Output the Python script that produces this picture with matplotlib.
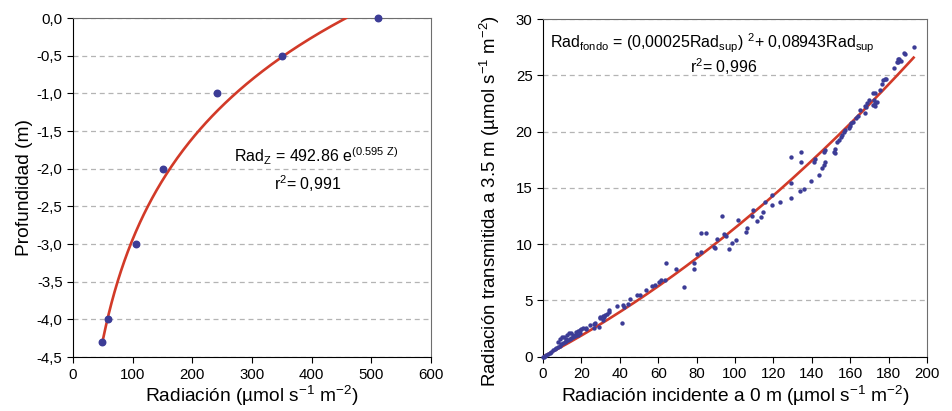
import matplotlib

matplotlib.use("Agg")
import matplotlib.pyplot as plt
import numpy as np
from matplotlib.ticker import FuncFormatter, MultipleLocator

plt.rcParams["font.family"] = ["Liberation Sans", "DejaVu Sans"]
plt.rcParams["mathtext.default"] = "regular"

# Left panel: radiation profile with depth
depth = [0.0, -0.5, -1.0, -2.0, -3.0, -4.0, -4.3]
rad_depth = [512, 350, 241.6, 150.4, 105.7, 59.3, 48.1]

# Right panel: transmitted (3.5 m) vs incident (0 m) radiation
rad_sup = [
    0.0, 0.3, 0.9, 1.7, 2.6, 3.5, 4.3, 5.2, 6.1, 7.0, 7.8, 8.7, 9.6, 10.4,
    11.3, 12.2, 13.0, 13.9, 14.8, 15.7, 16.5, 17.4,
    7.8, 9.0, 10.1, 11.0, 11.8, 12.5, 13.6, 14.4, 15.7, 17.4, 18.3, 19.1,
    20.0, 20.9, 19.1, 18.3, 22.6, 26.4, 26.4, 29.2, 29.9, 31.0, 33.4, 34.4,
    38.3, 40.9, 34.4, 32.2, 31.7, 31.0, 29.6, 27.0, 24.3, 22.3,
    41.7, 42.1, 44.3, 45.2, 48.7, 50.4, 53.6, 56.5, 58.3, 60.3, 61.7, 63.5,
    64.0, 69.2, 73.4, 78.6, 78.6, 80.0, 82.3, 82.1, 84.9, 89.0, 89.6, 90.4,
    93.0, 94.3, 95.3, 97.0, 98.3, 100.5, 101.4, 105.7, 106.4, 108.7, 109.6,
    111.3, 113.6, 114.8, 115.6, 119.1, 119.1, 123.5, 129.0, 129.0, 129.0,
    133.9, 136.0, 134.3, 134.3, 139.5, 140.9, 141.7, 143.5, 145.2, 146.1,
    147.0, 146.1, 147.0, 151.8, 151.3, 151.8, 153.0, 153.9, 155.1, 155.7,
    156.5, 157.4, 159.1, 160.0, 160.5, 161.4, 163.1, 163.8, 165.2, 167.5,
    167.8, 168.3, 168.7, 169.6, 172.2, 173.0, 171.8, 172.7, 173.9, 171.8,
    173.0, 175.7, 176.5, 176.9, 177.9, 178.8, 183.0, 184.3, 184.7, 184.9,
    185.2, 186.4, 188.2, 188.7, 193.0,
]
rad_fondo = [
    0.0, 0.02, 0.06, 0.15, 0.24, 0.36, 0.44, 0.59, 0.68, 0.80, 0.89, 0.98,
    1.13, 1.18, 1.27, 1.36, 1.48, 1.57, 1.69, 1.78, 1.84, 1.92,
    1.33, 1.54, 1.72, 1.78, 1.54, 1.92, 2.07, 2.13, 1.92, 2.22, 2.31, 2.37,
    2.43, 2.52, 2.07, 1.92, 2.52, 2.52, 2.90, 2.61, 3.41, 3.61, 3.79, 4.15,
    4.50, 2.96, 4.00, 3.70, 3.49, 3.26, 3.55, 2.96, 2.81, 2.43,
    4.59, 4.44, 4.68, 5.09, 5.48, 5.48, 5.92, 6.28, 6.37, 6.66, 6.81, 6.81,
    8.35, 7.76, 6.22, 8.29, 7.76, 9.12, 9.33, 10.96, 10.96, 9.71, 9.62, 10.42,
    12.50, 10.90, 10.72, 9.54, 10.13, 10.37, 12.14, 11.11, 11.46, 12.50, 13.03,
    12.08, 12.44, 12.88, 13.77, 13.47, 14.36, 13.77, 17.71, 15.46, 14.07,
    14.75, 14.87, 18.21, 17.32, 15.64, 17.32, 17.53, 16.14, 16.73, 17.03,
    17.32, 18.21, 18.36, 18.42, 18.21, 18.07, 19.10, 19.25, 19.55, 19.69,
    19.93, 20.14, 20.29, 20.49, 20.73, 20.88, 21.17, 21.38, 21.91, 22.27,
    21.62, 22.21, 22.57, 22.80, 22.80, 23.40, 23.45, 22.51, 22.66, 22.36,
    22.27, 23.69, 24.20, 24.58, 24.64, 24.64, 25.62, 26.21, 26.42, 26.21,
    26.48, 26.27, 26.95, 26.89, 27.48,
]
# quadratic fit printed on the chart
quad_a, quad_b = 0.00025, 0.08943

DOT = "#3c3c96"
RED = "#d23a28"
GRID = "#b4b4b4"
LABEL_FS = 13.8
NOTE_FS = 11.5
comma = FuncFormatter(lambda v, _: f"{v:.1f}".replace(".", ","))

fig = plt.figure(figsize=(9.52, 4.11), dpi=100)
ax1 = fig.add_axes([0.0767, 0.131, 0.376, 0.825])
ax2 = fig.add_axes([0.5704, 0.132, 0.4034, 0.8217])

for ax in (ax1, ax2):
    ax.tick_params(direction="out", length=4, labelsize=10.8, width=0.8)
    for side in ("top", "right"):
        ax.spines[side].set_color("#6e6e6e")
    for side in ("left", "bottom"):
        ax.spines[side].set_color("black")
    ax.grid(axis="y", ls=(0, (4, 3)), color=GRID, lw=0.9)
    ax.set_axisbelow(True)

# --- left: exponential extinction curve
slope, icpt = np.polyfit(depth, np.log(rad_depth), 1)
zz = np.linspace(-4.25, 0, 200)
ax1.plot(np.exp(icpt + slope * zz), zz, color=RED, lw=1.9, zorder=3)
ax1.scatter(rad_depth, depth, s=22, color=DOT, zorder=4, clip_on=False)
ax1.set_xlim(0, 600)
ax1.set_ylim(-4.5, 0)
ax1.xaxis.set_major_locator(MultipleLocator(100))
ax1.yaxis.set_major_locator(MultipleLocator(0.5))
ax1.yaxis.set_major_formatter(comma)
ax1.set_xlabel("Radiación (µmol s$^{-1}$ m$^{-2}$)", fontsize=LABEL_FS, labelpad=2)
ax1.set_ylabel("Profundidad (m)", fontsize=LABEL_FS, labelpad=3)
ax1.text(407, -1.84, "Rad$_Z$ = 492.86 e$^{(0.595\\ Z)}$", fontsize=NOTE_FS,
         ha="center", va="center")
ax1.text(393, -2.2, "r$^2$= 0,991", fontsize=NOTE_FS, ha="center", va="center")

# --- right: quadratic relation
xx = np.linspace(0, 193, 200)
ax2.plot(xx, quad_a * xx ** 2 + quad_b * xx, color=RED, lw=1.9, zorder=3)
ax2.scatter(rad_sup, rad_fondo, s=10, color=DOT, zorder=4, clip_on=False,
            linewidths=0)
ax2.set_xlim(0, 200)
ax2.set_ylim(0, 30)
ax2.xaxis.set_major_locator(MultipleLocator(20))
ax2.yaxis.set_major_locator(MultipleLocator(5))
ax2.set_xlabel("Radiación incidente a 0 m (µmol s$^{-1}$ m$^{-2}$)",
               fontsize=LABEL_FS, labelpad=2)
ax2.set_ylabel("Radiación transmitida a 3.5 m (µmol s$^{-1}$ m$^{-2}$)",
               fontsize=13.4)
ax2.yaxis.set_label_coords(-0.108, 0.462)
ax2.text(88, 27.8, "Rad$_{fondo}$ = (0,00025Rad$_{sup}$) $^2$+ 0,08943Rad$_{sup}$",
         fontsize=NOTE_FS, ha="center", va="center")
ax2.text(94, 25.8, "r$^2$= 0,996", fontsize=NOTE_FS, ha="center", va="center")

fig.savefig("out.png", dpi=100)
